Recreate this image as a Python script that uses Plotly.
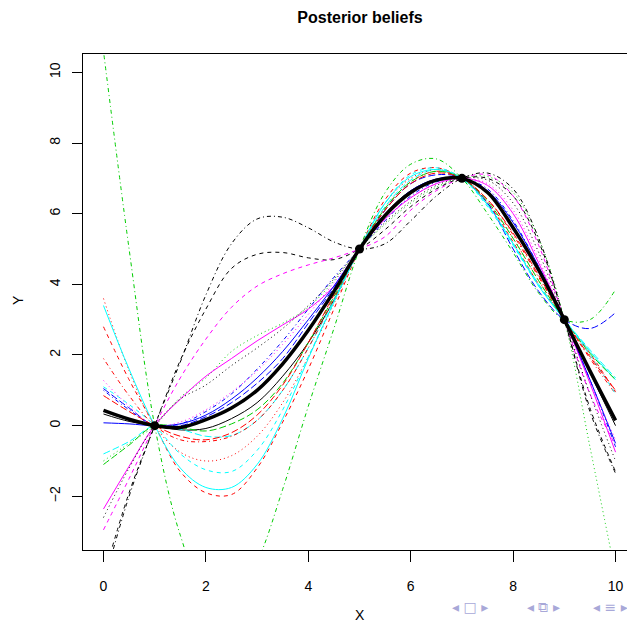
import plotly.graph_objects as go

x_grid = [0, 0.5, 1, 1.5, 2, 2.5, 3, 3.5, 4, 4.5, 5, 5.5, 6, 6.5, 7, 7.5, 8, 8.5, 9, 9.5, 10]

# observed data points
obs_x = [1, 5, 7, 9]
obs_y = [0, 5, 7, 3]

# posterior mean (thick black line)
mean_y = [0.43, 0.18, 0, -0.05, 0.17, 0.5, 1.0, 1.75, 2.7, 3.8, 5, 5.95, 6.6, 6.95, 7, 6.6, 5.6, 4.4, 3, 1.55, 0.15]

# posterior samples (matplot order: col cycles 1:6, lty cycles 1:5)
s01 = [0.33, 0.12, 0, -0.12, -0.08, 0.2, 0.65, 1.4, 2.35, 3.55, 5, 6.0, 6.65, 6.97, 7, 6.6, 5.6, 4.4, 3, 1.5, 0.0]
s02 = [2.8, 1.3, 0, -1.3, -1.9, -1.95, -1.2, 0.1, 1.6, 3.3, 5, 6.4, 7.15, 7.3, 7, 6.3, 5.2, 4.0, 3, 2.05, 0.95]
s03 = [-1.0, -0.5, 0, 0.8, 1.35, 2.1, 2.55, 2.9, 3.35, 4.1, 5, 5.7, 6.3, 6.75, 7, 7.05, 6.6, 5.3, 3, -0.6, -4.2]
s04 = [1.0, 0.45, 0, 0.05, 0.4, 0.9, 1.6, 2.4, 3.3, 4.2, 5, 5.8, 6.5, 6.9, 7, 6.7, 5.8, 4.5, 3, 1.3, -0.6]
s05 = [-0.8, -0.45, 0, -0.1, -0.3, -0.28, 0.15, 1.0, 2.2, 3.55, 5, 6.2, 6.95, 7.25, 7, 6.25, 5.15, 4.0, 3, 2.15, 1.35]
s06 = [-2.36, -1.15, 0, 0.75, 1.4, 1.9, 2.4, 2.85, 3.3, 3.95, 5, 5.85, 6.45, 6.85, 7, 6.8, 6.0, 4.6, 3, 1.2, -0.75]
s07 = [-4.3, -1.9, 0, 1.85, 3.3, 4.45, 4.85, 4.9, 4.75, 4.7, 5, 5.55, 6.2, 6.7, 7, 7.0, 6.5, 5.2, 3, 0.5, -1.3]
s08 = [3.6, 1.55, 0, -0.75, -1.0, -0.85, -0.3, 0.65, 1.95, 3.45, 5, 6.3, 7.0, 7.25, 7, 6.3, 5.3, 4.1, 3, 2.0, 1.0]
s09 = [10.6, 5.0, 0, -3.1, -4.8, -5.0, -3.85, -1.8, 0.55, 2.75, 5, 6.6, 7.4, 7.55, 7, 6.0, 4.9, 3.75, 3, 3.0, 3.85]
s10 = [1.05, 0.5, 0, 0.0, 0.25, 0.65, 1.2, 1.9, 2.9, 3.9, 5, 6.1, 6.85, 7.1, 7, 6.3, 5.0, 3.8, 3, 2.75, 3.2]
s11 = [3.4, 1.6, 0, -1.2, -1.75, -1.75, -1.1, 0.2, 1.9, 3.5, 5, 6.3, 7.05, 7.25, 7, 6.25, 5.15, 3.95, 3, 2.1, 1.3]
s12 = [-2.95, -1.5, 0, 1.35, 2.45, 3.35, 3.95, 4.3, 4.55, 4.75, 5, 5.35, 6.1, 6.65, 7, 7.1, 6.5, 5.1, 3, 0.9, -0.55]
s13 = [-2.6, -1.2, 0, 0.75, 1.15, 1.7, 2.2, 2.75, 3.4, 4.15, 5, 5.75, 6.35, 6.8, 7, 6.95, 6.3, 4.9, 3, 0.9, -1.0]
s14 = [1.9, 0.85, 0, -0.4, -0.45, -0.3, 0.15, 1.0, 2.2, 3.6, 5, 6.15, 6.9, 7.2, 7, 6.4, 5.4, 4.2, 3, 1.9, 0.9]
s15 = [-1.1, -0.55, 0, -0.05, -0.15, 0.05, 0.45, 1.2, 2.35, 3.65, 5, 6.15, 6.9, 7.2, 7, 6.35, 5.3, 4.1, 3, 2.05, 1.3]
s16 = [0.08, 0.05, 0, 0.05, 0.3, 0.75, 1.35, 2.1, 3.0, 3.95, 5, 5.95, 6.65, 6.98, 7, 6.65, 5.75, 4.5, 3, 1.3, -0.5]
s17 = [1.1, 0.6, 0, -0.8, -1.25, -1.3, -0.7, 0.45, 1.95, 3.5, 5, 6.3, 7.1, 7.3, 7, 6.2, 5.1, 3.95, 3, 2.0, 0.9]
s18 = [1.28, 0.55, 0, 0.1, 0.45, 0.95, 1.55, 2.3, 3.15, 4.05, 5, 5.85, 6.45, 6.85, 7, 6.85, 6.1, 4.7, 3, 1.25, -0.4]
s19 = [-4.5, -2.0, 0, 1.8, 3.7, 5.15, 5.85, 5.9, 5.6, 5.2, 5, 5.15, 5.8, 6.5, 7, 7.15, 6.7, 5.3, 3, 0.4, -1.35]
s20 = [0.85, 0.4, 0, -0.3, -0.4, -0.2, 0.3, 1.15, 2.35, 3.7, 5, 6.1, 6.85, 7.15, 7, 6.4, 5.45, 4.25, 3, 1.95, 1.0]

samples = [s01, s02, s03, s04, s05, s06, s07, s08, s09, s10,
           s11, s12, s13, s14, s15, s16, s17, s18, s19, s20]

x_ticks = [0, 2, 4, 6, 8, 10]
y_ticks = [-2, 0, 2, 4, 6, 8, 10]

palette = ["#000000", "#FF0000", "#00CD00", "#0000FF", "#00FFFF", "#FF00FF"]
dashes = ["solid", "4px,4px", "1px,3px", "1px,3px,4px,3px", "7px,3px"]

fig = go.Figure()
for i, ys in enumerate(samples):
    fig.add_trace(go.Scatter(
        x=x_grid, y=ys, mode="lines",
        line=dict(color=palette[i % 6], dash=dashes[i % 5], width=1, shape="spline", smoothing=1.0),
        showlegend=False, hoverinfo="skip"))

fig.add_trace(go.Scatter(
    x=x_grid, y=mean_y, mode="lines",
    line=dict(color="black", width=3.5, shape="spline", smoothing=1.0),
    showlegend=False))
fig.add_trace(go.Scatter(
    x=obs_x, y=obs_y, mode="markers",
    marker=dict(color="black", size=9),
    showlegend=False))

font_family = "Liberation Sans, Arial, sans-serif"
nav_color = "#a8a8d8"
# page body adds an 8px offset; plot area targets window px x 83..635, y 54..550
nav_groups = [("◂ □ ▸", 470), ("◂ ⧉ ▸", 543), ("◂ ≡ ▸", 610)]
nav_annotations = [
    dict(text=t, x=(cx - 83) / 552, y=(550 - 607) / 496, xref="paper", yref="paper",
         xanchor="center", yanchor="middle", showarrow=False,
         font=dict(size=14, color=nav_color, family="DejaVu Sans"))
    for t, cx in nav_groups
]

fig.update_layout(
    width=635, height=622,
    margin=dict(l=75, r=8, t=46, b=80),
    paper_bgcolor="white", plot_bgcolor="white",
    font=dict(family=font_family, size=14, color="black"),
    title=dict(text="<b>Posterior beliefs</b>", x=352 / 635, xanchor="center",
               y=1 - 9 / 622, yanchor="middle", font=dict(size=16, family=font_family)),
    xaxis=dict(range=[-0.4, 10.38], tickvals=x_ticks, ticks="outside", ticklen=11,
               tickwidth=1, tickcolor="black", showgrid=False, zeroline=False,
               showline=True, linecolor="black", linewidth=1, mirror=True,
               ticklabelstandoff=12, tickfont=dict(size=14)),
    yaxis=dict(range=[-3.52, 10.52], tickvals=y_ticks, ticks="outside", ticklen=10,
               tickwidth=1, tickcolor="black", showgrid=False, zeroline=False,
               showline=True, linecolor="black", linewidth=1, mirror=False,
               ticklabelstandoff=6, tickangle=-90, tickfont=dict(size=14)),
    annotations=[
        dict(text="X", x=(360 - 83) / 552, y=(550 - 615) / 496, xref="paper", yref="paper",
             xanchor="center", yanchor="middle", showarrow=False, font=dict(size=14)),
        dict(text="Y", x=(18 - 83) / 552, y=(550 - 300) / 496, xref="paper", yref="paper",
             xanchor="center", yanchor="middle", showarrow=False, textangle=-90,
             font=dict(size=14)),
    ] + nav_annotations,
)

fig.write_html("out.html")
